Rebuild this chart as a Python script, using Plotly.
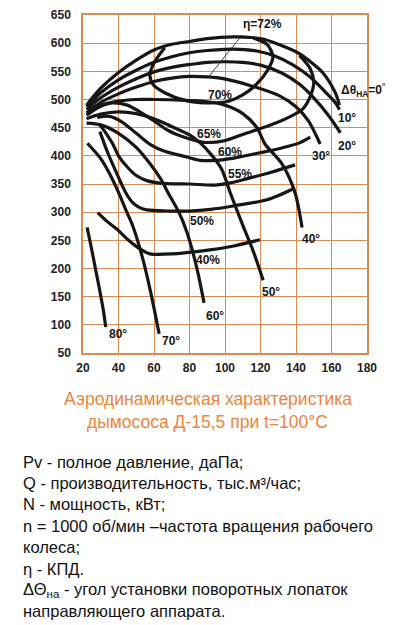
import plotly.graph_objects as go

# blade angle curves (Q, thousand m3/h ; Pv, daPa)
q_0 = [22, 30, 40, 50, 60, 70, 80, 90, 105, 115, 122, 130, 141, 149, 155, 162, 164.5]
p_0 = [490, 520, 548, 570, 588, 598, 603, 608, 611, 610, 607, 598, 583, 565, 548, 513, 490]
q_10 = [22, 30, 40, 50, 60, 70, 80, 90, 100, 108, 118, 128, 138, 148, 156, 162, 164.5]
p_10 = [487, 512, 535, 552, 566, 576, 583, 587, 589, 589, 586, 577, 562, 540, 515, 495, 482]
q_20 = [22, 30, 40, 50, 60, 70, 80, 90, 100, 110, 120, 132, 142, 150, 158, 165]
p_20 = [482, 503, 522, 537, 549, 557, 562, 566, 567, 566, 561, 547, 527, 503, 473, 441]
q_30 = [22, 30, 40, 50, 60, 70, 80, 90, 99, 114, 131, 140, 147, 153.6]
p_30 = [476, 495, 510, 522, 532, 538, 541, 540, 537, 525, 506, 487, 462, 421]
q_40 = [22, 30, 40, 50, 60, 75, 90, 100, 110, 118, 122.5, 132, 139.5, 143.4]
p_40 = [472, 488, 497, 500, 500, 499, 496, 490, 475, 450, 421, 386, 334, 273]
q_50 = [22, 30, 40, 50, 60, 70, 80, 86, 92, 98, 103, 110, 116, 121.5]
p_50 = [466, 474, 478, 475, 466, 452, 437, 423, 403, 377, 334, 277, 230, 179]
q_60 = [22, 30, 40, 50, 58, 64, 68, 74, 78.6, 84.2, 88.2]
p_60 = [458, 455, 440, 415, 385, 358, 334, 300, 264, 200, 139]
q_70 = [22.5, 26, 30, 35, 40, 44, 48, 53.7, 58.8, 62.9]
p_70 = [422, 410, 395, 368, 335, 305, 276, 217, 148, 84]
q_80 = [22.3, 24.5, 27, 29.5, 31.5, 32.8]
p_80 = [273, 240, 200, 160, 125, 96]

# efficiency curves
q_e70 = [66, 60, 57.7, 59.4, 66, 78, 92, 102, 110, 118, 124, 127, 124, 116]
p_e70 = [592, 565, 543, 527, 512, 498, 494, 497, 508, 528, 552, 575, 597, 609]
q_e65 = [27, 36, 45, 52, 60, 68, 78, 88, 100, 110, 126, 137, 144, 148, 150, 148, 142]
p_e65 = [487, 494, 490, 478, 462, 445, 432, 424, 427, 438, 455, 470, 484, 505, 530, 555, 578]
q_e60 = [28, 35, 42, 50, 58, 66, 76, 86, 95, 105, 119, 132, 142, 148]
p_e60 = [468, 470, 460, 440, 420, 408, 400, 392, 392, 396, 405, 414, 423, 433]
q_e55 = [29.5, 33, 36.8, 40, 44.7, 50, 56, 65, 80, 94, 103, 113, 126, 139.5]
p_e55 = [455, 440, 421, 400, 381, 365, 356, 351, 350, 348, 352, 360, 371, 384]
q_e50 = [29.5, 34, 39, 44, 48, 52, 56, 68, 80, 92, 104.6, 123.6, 139.5]
p_e50 = [443, 405, 369, 335, 317, 308, 304, 302, 302, 305, 311, 322, 343]
q_e40 = [28.3, 33, 39, 45, 52, 57.7, 70.7, 91.5, 105, 119.7]
p_e40 = [299, 285, 270, 252, 235, 226, 226, 233, 240, 251]

angle_labels = ["Δθ<sub>НА</sub>=0<sup>°</sup>", "10°", "20°", "30°", "40°", "50°", "60°", "70°", "80°"]
eff_labels = ["η=72%", "70%", "65%", "60%", "55%", "50%", "40%"]

x_ticks = [20, 40, 60, 80, 100, 120, 140, 160, 180]
y_ticks = [50, 100, 150, 200, 250, 300, 350, 400, 450, 500, 550, 600, 650]

title_lines = ["Аэродинамическая характеристика", "дымососа Д-15,5 при t=100°C"]
legend_lines = [
    "Pv - полное давление, даПа;",
    "Q - производительность, тыс.м³/час;",
    "N - мощность, кВт;",
    "n = 1000 об/мин –частота вращения рабочего",
    "колеса;",
    "η - КПД.",
    "ΔΘ<sub>на</sub> - угол установки поворотных лопаток",
    "направляющего аппарата.",
]

GRID = "#d98a55"
INK = "#161616"
FONT = "Liberation Sans, Arial"

fig = go.Figure()

curves = [
    (q_0, p_0), (q_10, p_10), (q_20, p_20), (q_30, p_30), (q_40, p_40),
    (q_50, p_50), (q_60, p_60), (q_70, p_70), (q_80, p_80),
    (q_e70, p_e70), (q_e65, p_e65), (q_e60, p_e60), (q_e55, p_e55),
    (q_e50, p_e50), (q_e40, p_e40),
]
for qs, ps in curves:
    fig.add_trace(
        go.Scatter(
            x=qs, y=ps, mode="lines",
            line=dict(color=INK, width=3.2, shape="spline", smoothing=0.8),
            showlegend=False, hoverinfo="skip",
        )
    )

# label positions in data units
angle_pos = [(178, 516), (168.5, 468), (169, 418), (154.3, 400), (148.6, 252),
             (126, 158), (94.5, 115), (69.6, 71), (39.6, 83)]
eff_pos = [(121, 634), (97.3, 508), (91, 438), (103, 407), (108.6, 367),
           (87, 285), (90.5, 215)]

lbl_font = dict(family=FONT, size=12, color=INK)
for txt, (x, y) in zip(angle_labels + eff_labels, angle_pos + eff_pos):
    fig.add_annotation(x=x, y=y, text="<b>" + txt + "</b>", showarrow=False, font=lbl_font)

# leader line for eta=72%
fig.add_annotation(x=90.5, y=539, ax=110.2, ay=617, axref="x", ayref="y",
                   text="", showarrow=True, arrowhead=0, arrowwidth=0.8, arrowcolor=INK)

fig.add_annotation(x=189, y=52, text="<b>Q</b>", showarrow=False,
                   font=dict(family=FONT, size=13, color=INK))

# page has an 8px body margin; plot area sits at px 83..367 x 15..353 of the page
def py(px):
    return (353.3 - px) / 338.3

def px_x(px):
    return (px - 83.3) / 283.4

for i, line in enumerate(title_lines):
    fig.add_annotation(xref="paper", yref="paper", x=px_x(208), y=py(399 + i * 23),
                       text=line, showarrow=False, xanchor="center", yanchor="middle",
                       font=dict(family=FONT, size=17.5, color="#ec853d"))

for i, line in enumerate(legend_lines):
    fig.add_annotation(xref="paper", yref="paper", x=px_x(21), y=py(462 + i * 21.4),
                       text=line, showarrow=False, xanchor="left", yanchor="middle",
                       font=dict(family=FONT, size=16.5, color="#111111"))

axis_common = dict(
    showgrid=True, gridcolor=GRID, gridwidth=1,
    showline=True, linecolor=GRID, linewidth=1.5, mirror=True,
    zeroline=False, ticks="", automargin=False, ticklabeloverflow="allow",
    tickfont=dict(family=FONT, size=12, color="#222222", weight="bold"),
)
fig.update_xaxes(range=[20, 180], tickvals=x_ticks, ticklabelstandoff=3, **axis_common)
fig.update_yaxes(range=[50, 650], tickvals=y_ticks, ticklabelstandoff=8, **axis_common)

fig.update_layout(
    width=405, height=617,
    margin=dict(l=75, r=46, t=7, b=272),
    plot_bgcolor="white", paper_bgcolor="white",
)

fig.write_html("out.html")
